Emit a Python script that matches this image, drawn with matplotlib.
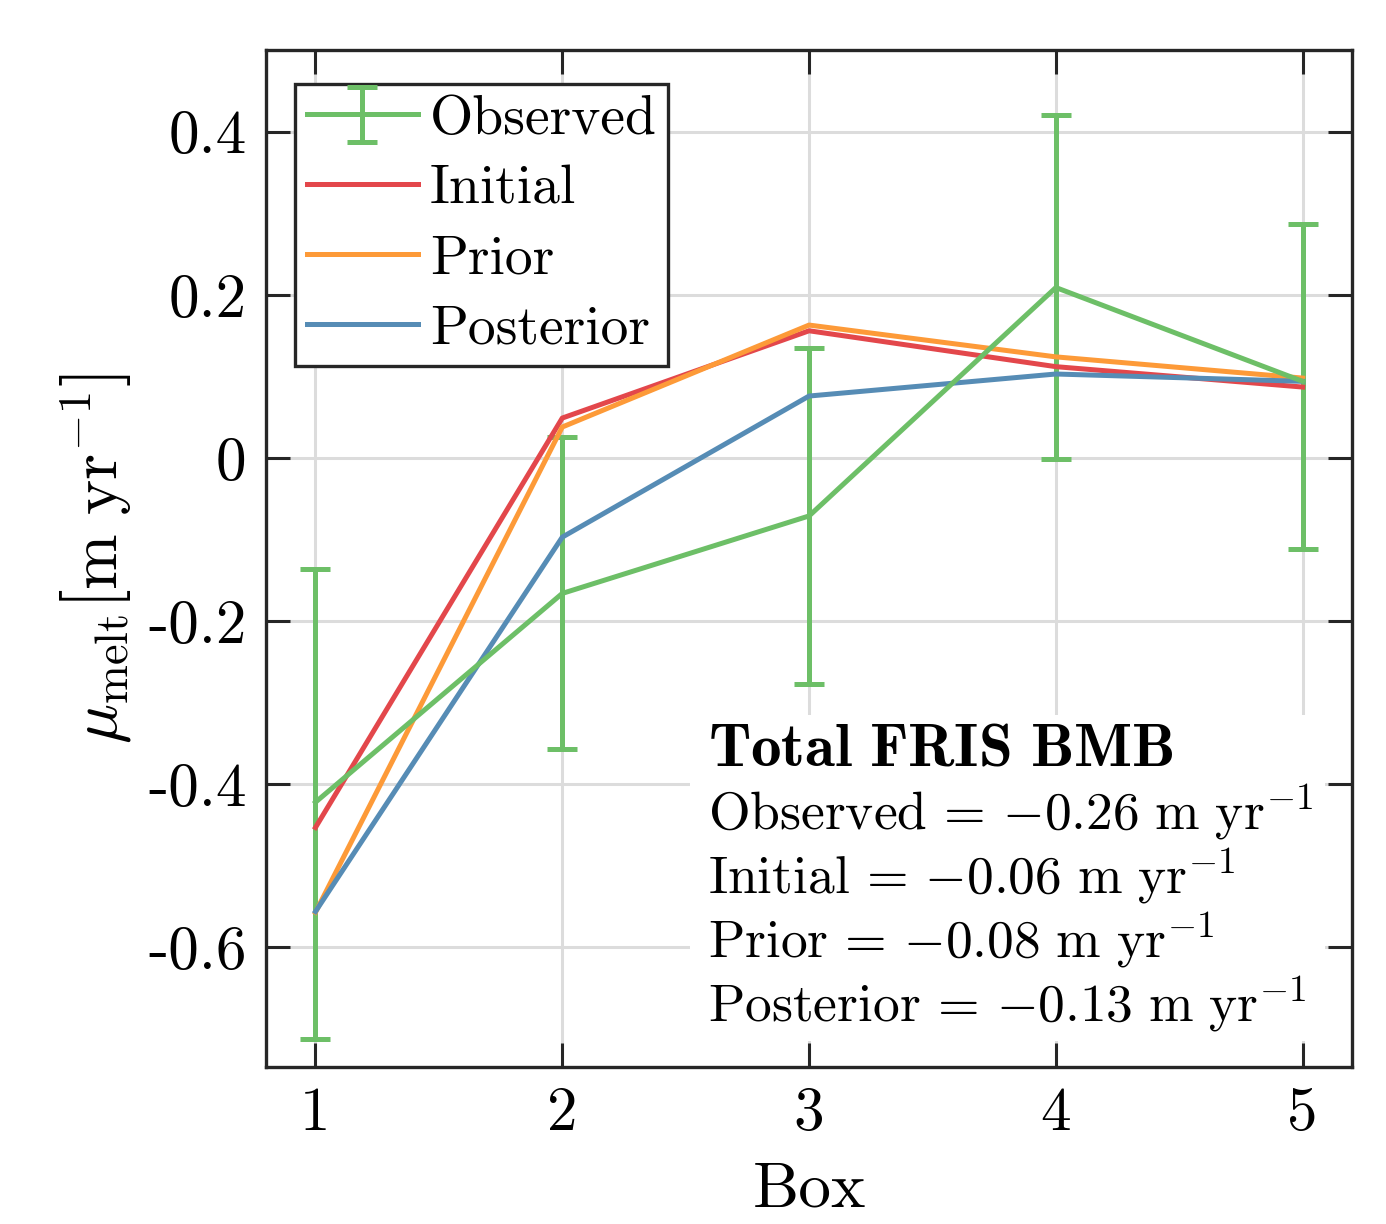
import matplotlib
matplotlib.use('Agg')
import matplotlib.pyplot as plt
from matplotlib.patches import Rectangle
import numpy as np

plt.rcParams['font.family'] = ['cmr10', 'DejaVu Serif']
plt.rcParams['mathtext.fontset'] = 'cm'
plt.rcParams['axes.unicode_minus'] = False

# 数据
box = [1, 2, 3, 4, 5]
observed = [-0.422, -0.166, -0.071, 0.209, 0.094]
obs_low = [-0.712, -0.357, -0.277, -0.001, -0.112]
obs_high = [-0.136, 0.026, 0.135, 0.421, 0.287]
initial = [-0.453, 0.049, 0.156, 0.112, 0.087]
prior = [-0.557, 0.038, 0.163, 0.124, 0.098]
posterior = [-0.556, -0.097, 0.076, 0.103, 0.094]

yticks = [-0.6, -0.4, -0.2, 0, 0.2, 0.4]
ytick_labels = ['-0.6', '-0.4', '-0.2', '0', '0.2', '0.4']

total_names = ['Observed', 'Initial', 'Prior', 'Posterior']
total_vals = [-0.26, -0.06, -0.08, -0.13]

c_obs = '#6dbf67'
c_ini = '#e3474b'
c_pri = '#fd9a38'
c_post = '#568cb5'

fig = plt.figure(figsize=(13.86, 12.24), dpi=100)
ax = fig.add_axes([0.192, 0.128, 0.7835, 0.831])

lw = 3.6
yerr = [np.array(observed) - np.array(obs_low), np.array(obs_high) - np.array(observed)]
h_obs = ax.errorbar(box, observed, yerr=yerr, color=c_obs, lw=lw, capsize=11, capthick=lw, label='Observed', zorder=3)
h_ini, = ax.plot(box, initial, color=c_ini, lw=lw, label='Initial', zorder=3)
h_pri, = ax.plot(box, prior, color=c_pri, lw=lw, label='Prior', zorder=3)
h_post, = ax.plot(box, posterior, color=c_post, lw=lw, label='Posterior', zorder=3)

ax.set_xlim(0.8, 5.2)
ax.set_ylim(-0.747, 0.5)
ax.set_xticks(box)
ax.set_xticklabels([str(b) for b in box])
ax.set_yticks(yticks)
ax.set_yticklabels(ytick_labels)
ax.grid(True, color='#dcdcdc', lw=2.2)
ax.set_axisbelow(True)
ax.tick_params(direction='in', length=17, width=2.2, top=True, right=True, labelsize=44, pad=14, color='#262626')
for s in ax.spines.values():
    s.set_linewidth(2.4)
    s.set_color('#262626')

ax.set_xlabel('Box', fontsize=47, labelpad=14)
ax.set_ylabel(r'$\mu_{\mathrm{melt}}\left[\mathrm{m\ yr}^{-1}\right]$', fontsize=48, labelpad=10)

leg = ax.legend([h_obs, h_ini, h_pri, h_post], ['Observed', 'Initial', 'Prior', 'Posterior'],
                loc='upper left', bbox_to_anchor=(0.027, 0.967), fontsize=40, handlelength=2.0,
                labelspacing=0.36, borderpad=0.2, handletextpad=0.22, fancybox=False, framealpha=1,
                edgecolor='#262626', borderaxespad=0)
leg.get_frame().set_linewidth(2.4)

# 总量文字框（白底遮住网格）
ax.add_patch(Rectangle((0.39, 0.026), 0.585, 0.32, transform=ax.transAxes,
                       facecolor='white', edgecolor='none', zorder=1.8))
ax.text(0.407, 0.297, r'$\mathbf{Total\ FRIS\ BMB}$', transform=ax.transAxes,
        fontsize=44, va='baseline', ha='left', zorder=2)
y0 = 0.233
for k, v in zip(total_names, total_vals):
    ax.text(0.407, y0, r'$\mathrm{%s}\,=\,{%.2f}\ \mathrm{m\ yr}^{-1}$' % (k, v), transform=ax.transAxes,
            fontsize=38.5, va='baseline', ha='left', zorder=2)
    y0 -= 0.063

plt.savefig('out.png', dpi=100)
